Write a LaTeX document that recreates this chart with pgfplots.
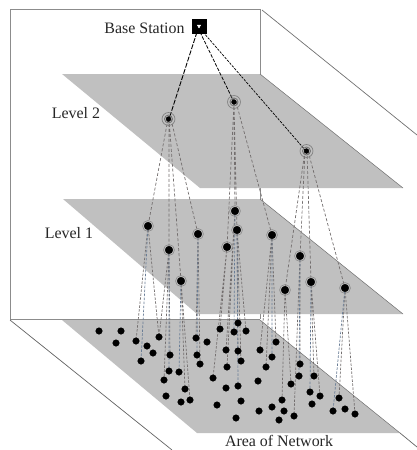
\documentclass[border=0pt]{standalone}
\usepackage{pgfplots}
\usepackage{fontspec}
\setmainfont{Liberation Serif}
\pgfplotsset{compat=1.18}
\definecolor{plane}{RGB}{192,192,192}
\definecolor{frameg}{RGB}{140,140,140}
\definecolor{linkg}{RGB}{115,110,110}
\definecolor{linkb}{RGB}{105,125,150}
\begin{document}
\begin{tikzpicture}
\path[use as bounding box] (0,0) rectangle (417bp,450bp);
\begin{axis}[
  scale only axis, width=417bp, height=450bp,
  xmin=0, xmax=417, ymin=0, ymax=450, y dir=reverse,
  hide axis, clip=true, unbounded coords=jump,
  every axis plot/.append style={line cap=butt},
]
% frame
\addplot[frameg, line width=1pt] coordinates {(10,320) (10,9.5) (260.5,9.5) (260.5,319)};
\addplot[frameg, line width=1pt] coordinates {(10,319.5) (260,319.5)};
\addplot[frameg!80!black, line width=0.7pt] coordinates {(262,10) (417,135)};
\addplot[frameg!70!black, line width=0.7pt] coordinates {(10,320) (172,450)};
\addplot[frameg!70!black, line width=0.7pt] coordinates {(400,433) (417,447)};
% planes
\addplot[fill=plane, draw=none] coordinates {(62,320) (260,320) (400,433) (197,433)} --cycle;
\addplot[fill=plane, draw=none] coordinates {(63,199) (260,199) (403,314) (197,314)} --cycle;
\addplot[fill=plane, draw=none] coordinates {(62,74) (260,74) (403,188) (200,188)} --cycle;
\addplot[frameg!80!black, line width=0.5pt] coordinates {(260,74) (403,188)};
\addplot[frameg!80!black, line width=0.5pt] coordinates {(260,199) (403,314)};
\addplot[frameg!80!black, line width=0.5pt] coordinates {(260,320) (400,433)};
% links base station to level 2
\addplot[black, line width=0.9pt, dash pattern=on 5pt off 1.5pt] coordinates {(197,32) (169,119)};
\addplot[black, line width=0.8pt, dash pattern=on 3.5pt off 1.5pt] coordinates {(200,32) (234,102)};
\addplot[black, line width=0.7pt, dash pattern=on 2.5pt off 1.2pt] coordinates {(203,32) (306,151)};
% links level 2 to level 1
\addplot[linkg, line width=0.7pt, dash pattern=on 3pt off 2pt] coordinates {
 (168,119) (148,226) (nan,nan)
 (169,119) (169,250) (nan,nan)
 (169,119) (181,281) (nan,nan)
 (171,119) (198,234) (nan,nan)
 (234,102) (235,211) (nan,nan)
 (234,102) (237,230) (nan,nan)
 (234,102) (227,247) (nan,nan)
 (236,102) (272,235) (nan,nan)
 (305,151) (285,290) (nan,nan)
 (305,151) (300,256) (nan,nan)
 (307,151) (311,282) (nan,nan)
 (308,151) (345,288)
};
% links level 1 to sensors
\addplot[linkg, line width=0.7pt, dash pattern=on 2.5pt off 1.5pt] coordinates {
 (148,226) (136,341) (nan,nan)
 (148,226) (159,337) (nan,nan)
 (169,250) (159,337) (nan,nan)
 (169,250) (170,355) (nan,nan)
 (169,250) (164,380) (nan,nan)
 (181,281) (185,389) (nan,nan)
 (181,281) (190,400) (nan,nan)
 (198,234) (196,338) (nan,nan)
 (198,234) (200,364) (nan,nan)
 (227,247) (220,329) (nan,nan)
 (227,247) (213,378) (nan,nan)
 (235,211) (226,350) (nan,nan)
 (235,211) (227,367) (nan,nan)
 (237,230) (238,351) (nan,nan)
 (237,230) (241,361) (nan,nan)
 (237,230) (246,331) (nan,nan)
 (272,235) (260,350) (nan,nan)
 (272,235) (276,342) (nan,nan)
 (272,235) (266,367) (nan,nan)
 (285,290) (291,384) (nan,nan)
 (285,290) (282,400) (nan,nan)
 (300,256) (300,364) (nan,nan)
 (300,256) (294,416) (nan,nan)
 (311,282) (314,376) (nan,nan)
 (311,282) (320,396) (nan,nan)
 (345,288) (339,398) (nan,nan)
 (345,288) (355,414)
};
\addplot[linkb, line width=0.7pt, dash pattern=on 2.5pt off 1.5pt] coordinates {
 (148,226) (141,361) (nan,nan)
 (169,250) (169,371) (nan,nan)
 (181,281) (179,372) (nan,nan)
 (198,234) (197,355) (nan,nan)
 (235,211) (234,332) (nan,nan)
 (237,230) (238,386) (nan,nan)
 (272,235) (272,357) (nan,nan)
 (300,256) (299,376) (nan,nan)
 (311,282) (310,392) (nan,nan)
 (345,288) (333,411)
};
% rings at level 2
\addplot[only marks, mark=o, mark size=6.5pt, mark options={draw=black!50, line width=0.7pt}] coordinates {(168.5,119) (234,102) (306.5,151)};
\addplot[only marks, mark=o, mark size=4pt, mark options={draw=black!55, line width=0.9pt}] coordinates {(168.5,119) (234,102) (306.5,151)};
\addplot[only marks, mark=*, mark size=2.4pt, mark options={fill=black, draw=black}] coordinates {(168.5,119) (234,102) (306.5,151)};
% level 1 nodes
\addplot[only marks, mark=o, mark size=5.5pt, mark options={draw=black!45, line width=0.6pt}] coordinates {
 (148,226) (169,250) (181,281) (198,234) (235,211) (237,230) (227,247) (272,235) (300,256) (311,282) (285,290) (345,288)};
\addplot[only marks, mark=*, mark size=3.8pt, mark options={fill=black, draw=black}] coordinates {
 (148,226) (169,250) (181,281) (198,234) (235,211) (237,230) (227,247) (272,235) (300,256) (311,282) (285,290) (345,288)};
% sensors
\addplot[only marks, mark=*, mark size=3.3pt, mark options={fill=black, draw=black}] coordinates {
 (99,331) (121,331) (136,341) (116,343) (147,346) (159,337) (153,353) (141,361)
 (170,355) (196,338) (207,342) (197,355) (200,364) (169,371) (179,372) (164,380)
 (185,389) (166,396) (181,402) (190,400) (213,378) (217,405) (220,329) (238,323)
 (234,332) (246,331) (226,350) (238,351) (241,361) (227,367) (226,388) (238,386)
 (241,401) (236,418) (259,411) (272,407) (284,411) (279,420) (294,416) (282,400)
 (260,350) (276,342) (272,357) (266,367) (258,381) (291,384) (300,364) (299,376)
 (314,376) (310,392) (320,396) (312,404) (339,398) (333,411) (345,409) (355,414)};
% base station
\addplot[only marks, mark=square*, mark size=6.8pt, mark options={fill=black, draw=black, rounded corners=3pt}] coordinates {(199,26)};
\addplot[only marks, mark=triangle*, mark size=2pt, mark options={fill=white, draw=white, rotate=180}] coordinates {(199,26)};
% labels
\node[font=\fontsize{16}{17}\selectfont, text=black!85] at (axis cs:144.5,28) {Base Station};
\node[font=\fontsize{16}{17}\selectfont, text=black!85] at (axis cs:76,113) {Level 2};
\node[font=\fontsize{16}{17}\selectfont, text=black!85] at (axis cs:69,233) {Level 1};
\node[font=\fontsize{16}{17}\selectfont, text=black!85] at (axis cs:279,441) {Area of Network};
\end{axis}
\end{tikzpicture}
\end{document}
